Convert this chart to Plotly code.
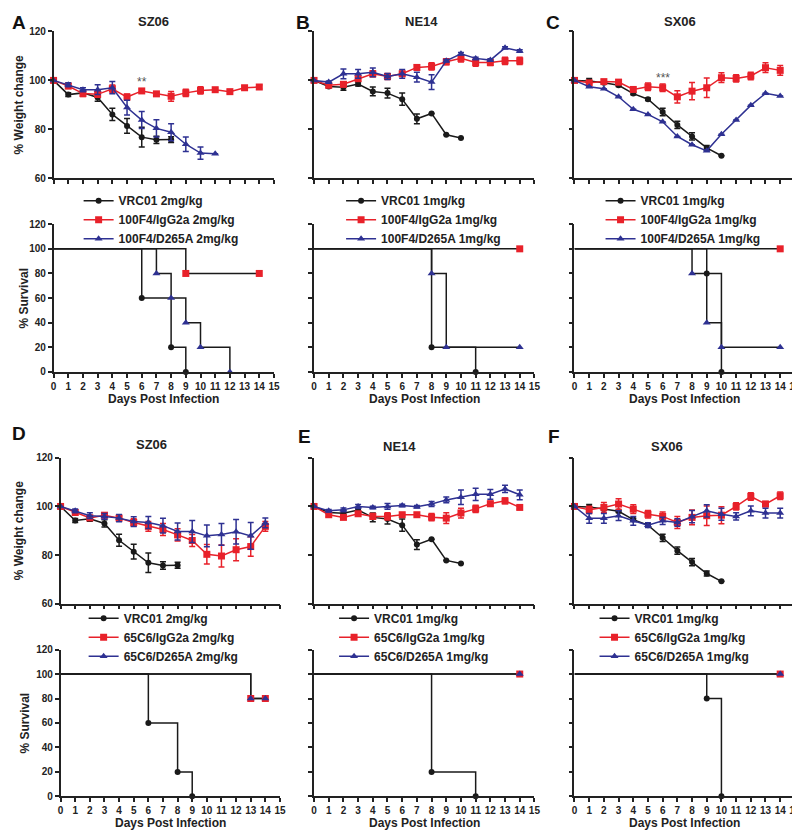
import plotly.graph_objects as go

# ---- data -------------------------------------------------------------
days = list(range(15))
x_ticks = list(range(16))

# weight change (%), mean and error, by panel
vrc01_2mg = [100, 94.2, 94.9, 93.0, 86.1, 81.4, 76.8, 75.7, 75.8]
vrc01_2mg_err = [0, 0.8, 1.0, 1.5, 2.5, 3.0, 4.0, 1.5, 1.2]
vrc01_1mg_ne14 = [100, 97.5, 97.2, 98.5, 95.5, 94.8, 92.3, 84.3, 86.5, 77.8, 76.5]
vrc01_1mg_ne14_err = [0, 0.5, 1.2, 0.8, 1.8, 2.0, 2.5, 2.0, 0, 0, 0]
vrc01_1mg_sx06 = [100, 99.8, 99.0, 98.0, 94.6, 92.3, 87.1, 81.8, 77.1, 72.4, 69.2]
vrc01_1mg_sx06_err = [0, 1.0, 0.5, 0.5, 0.5, 0.5, 1.5, 1.5, 1.5, 1.0, 0]

a_igg = [100, 97.7, 94.6, 94.3, 96.6, 93.2, 95.7, 94.5, 93.5, 94.9, 95.9, 96.2, 95.4, 97.0, 97.3]
a_igg_err = [0, 1, 1.2, 1.2, 1.5, 1.2, 0.8, 0.8, 2, 1.5, 1.5, 0.6, 0.8, 0.8, 0.8]
a_d265 = [100, 98.2, 96.2, 96.2, 97.0, 88.9, 83.8, 80.4, 78.8, 73.9, 70.3, 70.0]
a_d265_err = [0, 0.8, 0.8, 2, 2.5, 3, 3.5, 3.5, 3.5, 3, 2.5, 0]

b_igg = [100, 98.0, 98.4, 100.7, 102.7, 101.6, 102.7, 105.3, 105.7, 107.6, 109.0, 107.3, 107.3, 108.0, 108.0]
b_igg_err = [0, 0.8, 1, 1, 1.2, 1.2, 1, 1, 1.5, 1.2, 1.5, 1.5, 1.2, 1.5, 1.5]
b_d265 = [100, 99.3, 102.7, 102.7, 103.3, 101.6, 102.7, 101.3, 99.3, 108.0, 110.9, 109.0, 108.3, 113.3, 112.0]
b_d265_err = [0, 0.5, 2, 1.8, 1.8, 1.2, 1.8, 2, 3, 0.5, 0.5, 0.5, 0.5, 0.5, 0.5]

c_igg = [100, 99.0, 99.5, 99.3, 96.3, 97.4, 97.0, 93.3, 95.6, 97.0, 101.1, 100.8, 101.8, 105.2, 104.1]
c_igg_err = [0, 0.8, 0.8, 1, 0.8, 1.5, 1.5, 2.5, 3.5, 4, 2, 1.5, 1.5, 2, 2]
c_d265 = [100, 97.4, 96.6, 93.3, 88.2, 86.1, 83.1, 77.1, 73.7, 71.2, 78.0, 83.8, 89.8, 94.7, 93.6]
c_d265_err = [0] * 15

d_igg = [100, 97.5, 95.3, 96.4, 95.2, 93.4, 91.8, 90.5, 88.3, 86.0, 80.3, 79.6, 82.2, 83.5, 91.8]
d_igg_err = [0, 1, 1, 1, 1, 1.5, 2, 2.5, 2.5, 2.5, 4, 4.5, 4.5, 4, 2]
d_d265 = [100, 98.2, 96.2, 95.9, 95.2, 93.8, 93.4, 92.1, 89.7, 89.7, 87.9, 88.5, 89.6, 87.9, 93.2]
d_d265_err = [0, 0.8, 1.2, 1.2, 1.5, 2, 2.5, 3, 3.5, 4.5, 4.5, 4.5, 5, 5.5, 2]

e_igg = [100, 96.6, 95.5, 97.0, 95.9, 95.9, 96.6, 96.6, 95.6, 95.2, 97.3, 99.0, 101.1, 102.3, 99.6]
e_igg_err = [0, 0.8, 0.8, 0.8, 1.2, 1.5, 0.5, 0.8, 1.5, 2.2, 2, 1.5, 1, 1.2, 0.8]
e_d265 = [100, 98.2, 98.6, 100.0, 99.6, 100.0, 100.4, 99.9, 101.0, 102.7, 103.8, 105.0, 105.0, 107.2, 104.8]
e_d265_err = [0, 0.5, 0.8, 0.8, 0.5, 1.2, 0.5, 0.5, 1, 1.2, 3, 2.5, 2, 1.5, 2]

f_igg = [100, 98.6, 99.6, 101.0, 98.9, 96.8, 95.9, 93.4, 95.5, 96.2, 96.4, 100.0, 104.1, 101.0, 104.4]
f_igg_err = [0, 1.5, 2, 2.2, 1.8, 1.5, 1.8, 2.5, 3, 4, 3.5, 1.5, 1.5, 1, 1.5]
f_d265 = [100, 95.1, 95.1, 96.2, 94.1, 92.3, 94.1, 93.4, 95.8, 98.2, 96.8, 95.9, 98.2, 97.3, 97.3]
f_d265_err = [0, 2, 2, 2, 1.8, 1, 1.5, 1.5, 2.5, 2.5, 2.5, 1.5, 2, 2, 2]

# survival (%), Kaplan-Meier steps: day of event, level after event
surv_vrc01_2mg_x = [0, 6, 8, 9]
surv_vrc01_2mg_y = [100, 60, 20, 0]
surv_vrc01_ne14_x = [0, 8, 11]
surv_vrc01_ne14_y = [100, 20, 0]
surv_vrc01_sx06_x = [0, 9, 10]
surv_vrc01_sx06_y = [100, 80, 0]

surv_a_igg_x = [0, 9, 14]
surv_a_igg_y = [100, 80, 80]
surv_a_d265_x = [0, 7, 8, 9, 10, 12]
surv_a_d265_y = [100, 80, 60, 40, 20, 0]
surv_b_igg_x = [0, 14]
surv_b_igg_y = [100, 100]
surv_b_d265_x = [0, 8, 9, 14]
surv_b_d265_y = [100, 80, 20, 20]
surv_c_igg_x = [0, 14]
surv_c_igg_y = [100, 100]
surv_c_d265_x = [0, 8, 9, 10, 14]
surv_c_d265_y = [100, 80, 40, 20, 20]
surv_d_igg_x = [0, 13, 14]
surv_d_igg_y = [100, 80, 80]
surv_d_d265_x = [0, 13, 14]
surv_d_d265_y = [100, 80, 80]
surv_e_igg_x = [0, 14]
surv_e_igg_y = [100, 100]
surv_e_d265_x = [0, 14]
surv_e_d265_y = [100, 100]
surv_f_igg_x = [0, 14]
surv_f_igg_y = [100, 100]
surv_f_d265_x = [0, 14]
surv_f_d265_y = [100, 100]

# ---- style --------------------------------------------------------------
W, H = 800, 832
# the page shows the figure slightly shrunk and shifted; positions below are
# given as wanted on the final picture and converted back here
SHRINK, OFF_X, OFF_Y = 0.987, 9.5, 13.5
FONT = "Liberation Sans, Arial, sans-serif"
INK = "#222222"
BLACK = "#1a1a1a"
RED = "#e8212a"
BLUE = "#2e3192"
STYLE = {
    "vrc": dict(color=BLACK, symbol="circle", size=6),
    "igg": dict(color=RED, symbol="square", size=7),
    "d265": dict(color=BLUE, symbol="triangle-up", size=7),
}


def px_x(v):
    return (v - OFF_X) / SHRINK / W


def px_y(v):
    return 1 - (v - OFF_Y) / SHRINK / H


# panel geometry in picture pixels
panels = [
    # letter, strain, x0, x1, weight(top, bottom), survival(top, bottom),
    # legend(x, y), title(x, y), letter(x, y)
    ("A", "SZ06", 52, 272, (31, 178), (224, 372), (77, 186), (152, 21), (17, 22)),
    ("B", "NE14", 312, 532, (31, 178), (224, 372), (339, 186), (419, 21), (301, 22)),
    ("C", "SX06", 572, 792, (31, 178), (224, 372), (598, 186), (677, 21), (551, 22)),
    ("D", "SZ06", 59, 278, (458, 604), (650, 797), (82, 604), (150, 445), (17, 434)),
    ("E", "NE14", 312, 532, (458, 604), (650, 797), (332, 604), (397, 447), (302, 437)),
    ("F", "SX06", 572, 792, (458, 604), (650, 797), (592, 604), (664, 447), (552, 437)),
]

groups = [
    dict(vrc="VRC01 2mg/kg", igg="100F4/IgG2a 2mg/kg", d265="100F4/D265A 2mg/kg",
         w=[(vrc01_2mg, vrc01_2mg_err), (a_igg, a_igg_err), (a_d265, a_d265_err)],
         s=[(surv_vrc01_2mg_x, surv_vrc01_2mg_y), (surv_a_igg_x, surv_a_igg_y),
            (surv_a_d265_x, surv_a_d265_y)]),
    dict(vrc="VRC01 1mg/kg", igg="100F4/IgG2a 1mg/kg", d265="100F4/D265A 1mg/kg",
         w=[(vrc01_1mg_ne14, vrc01_1mg_ne14_err), (b_igg, b_igg_err), (b_d265, b_d265_err)],
         s=[(surv_vrc01_ne14_x, surv_vrc01_ne14_y), (surv_b_igg_x, surv_b_igg_y),
            (surv_b_d265_x, surv_b_d265_y)]),
    dict(vrc="VRC01 1mg/kg", igg="100F4/IgG2a 1mg/kg", d265="100F4/D265A 1mg/kg",
         w=[(vrc01_1mg_sx06, vrc01_1mg_sx06_err), (c_igg, c_igg_err), (c_d265, c_d265_err)],
         s=[(surv_vrc01_sx06_x, surv_vrc01_sx06_y), (surv_c_igg_x, surv_c_igg_y),
            (surv_c_d265_x, surv_c_d265_y)]),
    dict(vrc="VRC01 2mg/kg", igg="65C6/IgG2a 2mg/kg", d265="65C6/D265A 2mg/kg",
         w=[(vrc01_2mg, vrc01_2mg_err), (d_igg, d_igg_err), (d_d265, d_d265_err)],
         s=[(surv_vrc01_2mg_x, surv_vrc01_2mg_y), (surv_d_igg_x, surv_d_igg_y),
            (surv_d_d265_x, surv_d_d265_y)]),
    dict(vrc="VRC01 1mg/kg", igg="65C6/IgG2a 1mg/kg", d265="65C6/D265A 1mg/kg",
         w=[(vrc01_1mg_ne14, vrc01_1mg_ne14_err), (e_igg, e_igg_err), (e_d265, e_d265_err)],
         s=[(surv_vrc01_ne14_x, surv_vrc01_ne14_y), (surv_e_igg_x, surv_e_igg_y),
            (surv_e_d265_x, surv_e_d265_y)]),
    dict(vrc="VRC01 1mg/kg", igg="65C6/IgG2a 1mg/kg", d265="65C6/D265A 1mg/kg",
         w=[(vrc01_1mg_sx06, vrc01_1mg_sx06_err), (f_igg, f_igg_err), (f_d265, f_d265_err)],
         s=[(surv_vrc01_sx06_x, surv_vrc01_sx06_y), (surv_f_igg_x, surv_f_igg_y),
            (surv_f_d265_x, surv_f_d265_y)]),
]

fig = go.Figure()
layout = {}
annotations = []


def axis_style(**kw):
    base = dict(showline=True, linecolor=INK, linewidth=1.5, ticks="outside",
                ticklen=4, tickwidth=1.5, tickcolor=INK, showgrid=False,
                zeroline=False, fixedrange=True,
                tickfont=dict(family=FONT, size=10, color=INK, weight="bold"))
    base.update(kw)
    return base


def text(s, x, y, size=12, angle=0, color=INK):
    annotations.append(dict(text=s, x=px_x(x), y=px_y(y), xref="paper", yref="paper",
                            showarrow=False, xanchor="center", yanchor="middle",
                            textangle=angle,
                            font=dict(family=FONT, size=size, color=color, weight="bold")))


keys = ["vrc", "igg", "d265"]
for i, (panel, grp) in enumerate(zip(panels, groups)):
    letter, strain, x0, x1, wy, sy, leg, tpos, lpos = panel
    wn, sn = 2 * i + 1, 2 * i + 2
    leg_name = "legend" if i == 0 else f"legend{i + 1}"
    first_col = i % 3 == 0

    # weight axes
    layout[f"xaxis{wn}"] = axis_style(domain=[px_x(x0), px_x(x1)], range=[0, 15],
                                      tickvals=x_ticks, showticklabels=False,
                                      anchor=f"y{wn}")
    layout[f"yaxis{wn}"] = axis_style(domain=[px_y(wy[1]), px_y(wy[0])], range=[60, 120],
                                      tickvals=[60, 80, 100, 120],
                                      showticklabels=first_col, anchor=f"x{wn}")
    # survival axes
    layout[f"xaxis{sn}"] = axis_style(domain=[px_x(x0), px_x(x1)], range=[0, 15],
                                      tickvals=x_ticks, anchor=f"y{sn}")
    layout[f"yaxis{sn}"] = axis_style(domain=[px_y(sy[1]), px_y(sy[0])], range=[0, 120],
                                      tickvals=[0, 20, 40, 60, 80, 100, 120],
                                      showticklabels=first_col, anchor=f"x{sn}")

    for key, (vals, errs) in zip(keys, grp["w"]):
        st = STYLE[key]
        fig.add_trace(go.Scatter(
            x=days[:len(vals)], y=vals, name=grp[key], mode="lines+markers",
            xaxis=f"x{wn}", yaxis=f"y{wn}", legend=leg_name, cliponaxis=False,
            line=dict(color=st["color"], width=1.5),
            marker=dict(color=st["color"], symbol=st["symbol"], size=st["size"]),
            error_y=dict(type="data", array=errs[:len(vals)], color=st["color"],
                         thickness=1.5, width=3),
        ))

    # survival: black step line, coloured markers at each event
    for key, (sx, sv) in zip(keys, grp["s"]):
        fig.add_trace(go.Scatter(
            x=sx, y=sv, mode="lines", showlegend=False, cliponaxis=False,
            xaxis=f"x{sn}", yaxis=f"y{sn}",
            line=dict(color=BLACK, width=1.5, shape="hv"),
        ))
    for key, (sx, sv) in zip(keys, grp["s"]):
        st = STYLE[key]
        fig.add_trace(go.Scatter(
            x=sx[1:], y=sv[1:], mode="markers", showlegend=False, cliponaxis=False,
            xaxis=f"x{sn}", yaxis=f"y{sn}",
            marker=dict(color=st["color"], symbol=st["symbol"], size=st["size"],
                        opacity=1),
        ))

    layout[leg_name] = dict(x=px_x(leg[0]), y=px_y(leg[1]), xanchor="left", yanchor="top",
                            bgcolor="rgba(0,0,0,0)", tracegroupgap=0, itemwidth=30,
                            font=dict(family=FONT, size=12, color=INK, weight="bold"))

    text(strain, tpos[0], tpos[1], size=13)
    text(letter, lpos[0], lpos[1], size=19, color="#111")
    text("Days Post Infection", (x0 + x1) / 2, sy[1] + 27, size=12)
    if first_col:
        text("% Weight change", 17, (wy[0] + wy[1]) / 2, size=12, angle=-90)
        text("% Survival", 23, (sy[0] + sy[1]) / 2, size=12, angle=-90)

# significance stars
annotations.append(dict(text="**", x=6, y=99.5, xref="x1", yref="y1", showarrow=False,
                        font=dict(family=FONT, size=12, color="#555")))
annotations.append(dict(text="***", x=6, y=101, xref="x5", yref="y5", showarrow=False,
                        font=dict(family=FONT, size=12, color="#555")))

fig.update_layout(
    width=W, height=H, margin=dict(l=0, r=0, t=0, b=0),
    paper_bgcolor="white", plot_bgcolor="white",
    font=dict(family=FONT, color=INK),
    annotations=annotations,
    **layout,
)

fig.write_html("out.html")
